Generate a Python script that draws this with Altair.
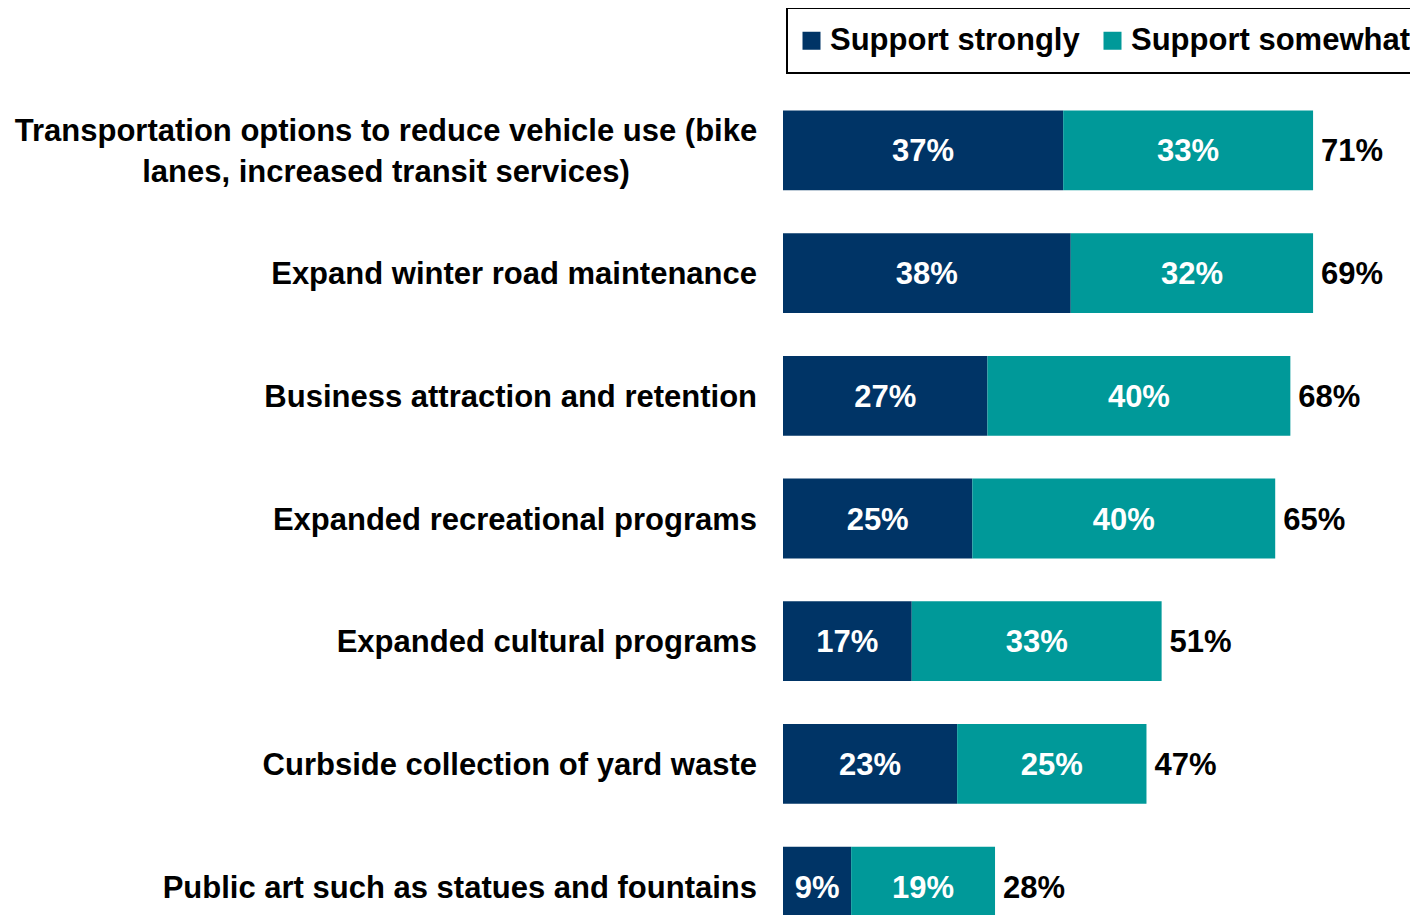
import altair as alt
import pandas as pd

items = [
    "Transportation options to reduce vehicle use (bike\nlanes, increased transit services)",
    "Expand winter road maintenance",
    "Business attraction and retention",
    "Expanded recreational programs",
    "Expanded cultural programs",
    "Curbside collection of yard waste",
    "Public art such as statues and fountains",
]
series = ["Support strongly", "Support somewhat"]
strongly = [37, 38, 27, 25, 17, 23, 9]
somewhat = [33, 32, 40, 40, 33, 25, 19]
totals = [71, 69, 68, 65, 51, 47, 28]
colors = ["#003466", "#009999"]

FONT = "Liberation Sans"
FS = 31

rows = []
for i, it in enumerate(items):
    rows.append({"item": it, "series": series[0], "order": 0, "value": strongly[i], "total": totals[i]})
    rows.append({"item": it, "series": series[1], "order": 1, "value": somewhat[i], "total": totals[i]})
df = pd.DataFrame(rows)

lab = pd.DataFrame({"item": items, "multi": ["\n" in s for s in items]})

yscale = alt.Scale(domain=items, paddingInner=0.35, paddingOuter=0.175, range=[0, 859])
xscale = alt.Scale(domain=[0, 82.8])

base = alt.Chart(df).transform_stack(
    stack="value", groupby=["item"], as_=["x0", "x1"], sort=[alt.SortField("order")]
).transform_calculate(mid="(datum.x0 + datum.x1) / 2")

bars = base.mark_bar(clip=False).encode(
    y=alt.Y("item:N", scale=yscale, axis=None, sort=items),
    x=alt.X("x0:Q", scale=xscale, axis=None),
    x2="x1:Q",
    color=alt.Color(
        "series:N",
        scale=alt.Scale(domain=series, range=colors),
        legend=alt.Legend(
            orient="none", legendX=4, legendY=-81, direction="horizontal", title=None,
            symbolType="square", symbolSize=324, symbolStrokeWidth=0, symbolOpacity=1,
            symbolOffset=-8,
            labelFontSize=FS, labelFont=FONT, labelFontWeight="bold", labelColor="black",
            labelLimit=0, strokeColor="black", fillColor="white", padding=17,
            columnPadding=23, labelOffset=3,
        ),
    ),
    order=alt.Order("order:Q"),
)

inner = base.mark_text(font=FONT, fontSize=FS, fontWeight="bold", color="white", baseline="middle", dy=2).encode(
    y=alt.Y("item:N", scale=yscale, sort=items),
    x=alt.X("mid:Q", scale=xscale),
    text=alt.Text("label:N"),
).transform_calculate(label="datum.value + '%'")

tot = base.transform_filter("datum.order == 1").transform_calculate(
    tlabel="datum.total + '%'"
).mark_text(font=FONT, fontSize=FS, fontWeight="bold", color="black", align="left", baseline="middle", dx=8, dy=2).encode(
    y=alt.Y("item:N", scale=yscale, sort=items),
    x=alt.X("x1:Q", scale=xscale),
    text="tlabel:N",
)

single = alt.Chart(lab).transform_filter("!datum.multi").mark_text(
    font=FONT, fontSize=FS, fontWeight="bold", color="black", align="right", baseline="middle", dy=2
).encode(
    y=alt.Y("item:N", scale=yscale, sort=items),
    x=alt.value(-26),
    text="item:N",
)

multi = alt.Chart(lab).transform_filter("datum.multi").mark_text(
    font=FONT, fontSize=FS, fontWeight="bold", color="black", align="center", baseline="middle",
    lineBreak="\n", lineHeight=41, dy=-18,
).encode(
    y=alt.Y("item:N", scale=yscale, sort=items),
    x=alt.value(-397),
    text="item:N",
)

chart = alt.layer(bars, inner, tot, single, multi).properties(
    width=627, height=826,
    autosize=alt.AutoSizeParams(type="none"),
    padding={"left": 775, "top": 81, "right": 0, "bottom": 0},
).configure_view(stroke=None).configure_legend(strokeWidth=2)

chart.save("out.html", embed_options={"renderer": "svg", "actions": False})
